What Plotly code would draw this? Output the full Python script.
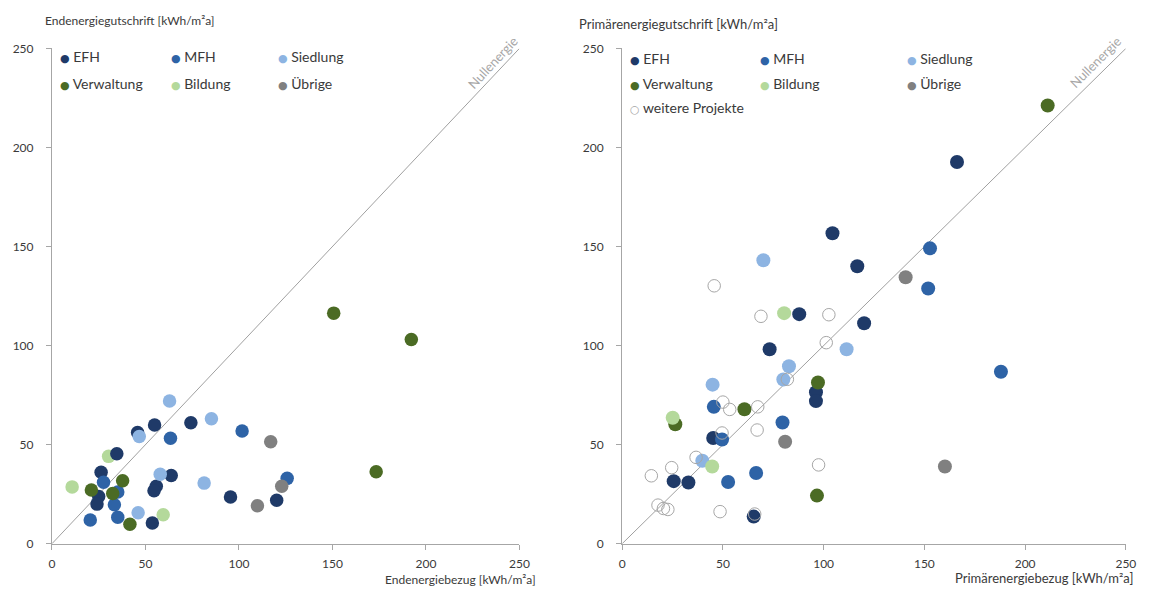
import plotly.graph_objects as go

# ---------------- data ----------------
categories = ["EFH", "MFH", "Siedlung", "Verwaltung", "Bildung", "Übrige"]
colors = ["#1f3a68", "#2e63a6", "#8db4e2", "#4b6b24", "#b4d99b", "#808080"]
open_label = "weitere Projekte"
open_color = "#a6a6a6"

tick_vals = [0, 50, 100, 150, 200, 250]
tick_text = ["0", "50", "100", "150", "200", "250"]
diag = [0, 250]

# Endenergie (left panel): Bezug (x) / Gutschrift (y)
end_efh_x = [45.8, 54.9, 74.3, 34.7, 26.3, 63.8, 25.0, 24.1, 55.8, 54.6, 95.5, 120.2, 53.7]
end_efh_y = [56.1, 59.9, 61.1, 45.4, 36.1, 34.4, 23.8, 20.0, 29.0, 26.7, 23.6, 22.0, 10.5]
end_mfh_x = [63.4, 101.7, 27.6, 35.2, 33.4, 125.8, 20.5, 35.2]
end_mfh_y = [53.3, 56.9, 31.0, 26.1, 19.7, 33.0, 12.0, 13.4]
end_sied_x = [62.9, 46.7, 85.3, 57.9, 81.4, 46.1]
end_sied_y = [72.0, 54.1, 63.1, 35.1, 30.6, 15.6]
end_verw_x = [37.8, 21.1, 32.5, 41.7, 150.7, 192.2, 173.4]
end_verw_y = [31.8, 27.1, 25.4, 9.8, 116.4, 103.1, 36.3]
end_bild_x = [30.3, 10.8, 59.5]
end_bild_y = [44.1, 28.7, 14.6]
end_uebr_x = [117.0, 122.9, 109.9]
end_uebr_y = [51.5, 29.0, 19.2]

# Primärenergie (right panel)
pri_efh_x = [166.2, 104.4, 116.7, 120.1, 87.9, 73.2, 96.2, 96.2, 45.2, 25.6, 32.9, 65.3]
pri_efh_y = [192.7, 156.7, 140.1, 111.3, 115.9, 98.2, 76.5, 72.0, 53.4, 31.6, 30.9, 13.7]
pri_mfh_x = [152.8, 151.9, 188.0, 45.5, 79.6, 49.6, 52.6, 66.5]
pri_mfh_y = [149.1, 128.8, 86.8, 69.1, 61.2, 52.6, 31.2, 35.7]
pri_sied_x = [70.1, 111.4, 82.8, 80.0, 44.9, 39.8]
pri_sied_y = [143.1, 98.2, 89.6, 82.9, 80.3, 41.9]
pri_verw_x = [211.2, 97.2, 60.7, 26.4, 96.7]
pri_verw_y = [221.2, 81.4, 67.9, 60.3, 24.3]
pri_bild_x = [80.4, 25.1, 44.7]
pri_bild_y = [116.4, 63.6, 39.0]
pri_uebr_x = [140.7, 80.9, 160.2]
pri_uebr_y = [134.5, 51.5, 39.0]
pri_open_x = [45.7, 68.9, 102.6, 101.3, 50.0, 53.4, 67.3, 67.0, 49.6, 36.7, 24.6, 14.5,
              17.8, 20.5, 22.7, 48.6, 65.8, 97.5, 82.0]
pri_open_y = [130.2, 114.8, 115.6, 101.5, 71.5, 67.8, 69.1, 57.4, 55.9, 43.6, 38.4, 34.3,
              19.5, 17.8, 17.3, 16.2, 15.0, 39.8, 83.0]

end_x = [end_efh_x, end_mfh_x, end_sied_x, end_verw_x, end_bild_x, end_uebr_x]
end_y = [end_efh_y, end_mfh_y, end_sied_y, end_verw_y, end_bild_y, end_uebr_y]
pri_x = [pri_efh_x, pri_mfh_x, pri_sied_x, pri_verw_x, pri_bild_x, pri_uebr_x]
pri_y = [pri_efh_y, pri_mfh_y, pri_sied_y, pri_verw_y, pri_bild_y, pri_uebr_y]

titles = {
    "end_y": "Endenergiegutschrift [kWh/m²a]",
    "end_x": "Endenergiebezug [kWh/m²a]",
    "pri_y": "Primärenergiegutschrift [kWh/m²a]",
    "pri_x": "Primärenergiebezug [kWh/m²a]",
}
diag_label = "Nullenergie"

# ---------------- figure ----------------
W, H = 1150, 599
FONT = "Lato, 'Open Sans', sans-serif"
TXT = "#3a3a3a"
AX = "#a6a6a6"

fig = go.Figure()

# zero-energy diagonals
for xa, ya in (("x", "y"), ("x2", "y2")):
    fig.add_trace(go.Scatter(x=diag, y=diag, mode="lines", xaxis=xa, yaxis=ya,
                             line=dict(color="#a0a0a0", width=1), showlegend=False,
                             hoverinfo="skip"))

order = [4, 0, 1, 2, 3, 5]
for i in order:
    fig.add_trace(go.Scatter(x=end_x[i], y=end_y[i], mode="markers", name=categories[i],
                             xaxis="x", yaxis="y", showlegend=False,
                             marker=dict(size=13.5, color=colors[i], line=dict(width=0))))
for i in [0, 1, 2, 3, 4, 5]:
    fig.add_trace(go.Scatter(x=pri_x[i], y=pri_y[i], mode="markers", name=categories[i],
                             xaxis="x2", yaxis="y2", showlegend=False,
                             marker=dict(size=14, color=colors[i], line=dict(width=0))))
fig.add_trace(go.Scatter(x=pri_open_x, y=pri_open_y, mode="markers", name=open_label,
                         xaxis="x2", yaxis="y2", showlegend=False,
                         marker=dict(size=12.5, symbol="circle-open", color=open_color,
                                     line=dict(width=1, color=open_color))))

def px_x(p):
    return p / W

def px_y(p):
    return 1 - p / H

ydom = [px_y(549.5), px_y(41.5)]
axis_common = dict(range=[0, 250], tickmode="array", tickvals=tick_vals, ticktext=tick_text,
                   showgrid=False, zeroline=False, showline=True, linecolor=AX, linewidth=1,
                   ticks="outside", ticklen=5, tickcolor=AX,
                   tickfont=dict(family=FONT, size=12, color=TXT), fixedrange=True)

fig.update_layout(
    width=W, height=H, margin=dict(l=0, r=0, t=0, b=0),
    paper_bgcolor="white", plot_bgcolor="white", showlegend=False,
    font=dict(family=FONT, color=TXT),
    xaxis=dict(domain=[px_x(49.5), px_x(522.3)], anchor="y", ticklabelstandoff=4, **axis_common),
    yaxis=dict(domain=ydom, anchor="x", ticklabelstandoff=10, **axis_common),
    xaxis2=dict(domain=[px_x(626.2), px_x(1135.7)], anchor="y2", ticklabelstandoff=4, **axis_common),
    yaxis2=dict(domain=ydom, anchor="x2", ticklabelstandoff=10, **axis_common),
)

ann = []
# axis titles
ann.append(dict(text=titles["end_y"], xref="paper", yref="paper", x=px_x(40), y=px_y(13),
                xanchor="left", yanchor="middle", showarrow=False,
                font=dict(family=FONT, size=12, color=TXT)))
ann.append(dict(text=titles["pri_y"], xref="paper", yref="paper", x=px_x(581), y=px_y(16),
                xanchor="left", yanchor="middle", showarrow=False,
                font=dict(family=FONT, size=13, color=TXT)))
ann.append(dict(text=titles["end_x"], xref="paper", yref="paper", x=px_x(541), y=px_y(586),
                xanchor="right", yanchor="middle", showarrow=False,
                font=dict(family=FONT, size=12, color=TXT)))
ann.append(dict(text=titles["pri_x"], xref="paper", yref="paper", x=px_x(1145), y=px_y(585),
                xanchor="right", yanchor="middle", showarrow=False,
                font=dict(family=FONT, size=13, color=TXT)))
# diagonal labels
ann.append(dict(text=diag_label, xref="x", yref="y", x=236, y=243, textangle=-47,
                showarrow=False, font=dict(family=FONT, size=13, color="#a6a6a6")))
ann.append(dict(text=diag_label, xref="x2", yref="y2", x=235, y=243, textangle=-45,
                showarrow=False, font=dict(family=FONT, size=13, color="#a6a6a6")))

# legend blocks (3 columns x rows)
def legend_entry(label, color, xpix, ypix, glyph="●"):
    return dict(text=f"<span style='font-family:DejaVu Sans;font-size:11px;color:{color}'>{glyph}</span> {label}",
                xref="paper", yref="paper", x=px_x(xpix), y=px_y(ypix),
                xanchor="left", yanchor="middle", showarrow=False,
                font=dict(family=FONT, size=14, color=TXT))

left_cols = [56, 168, 276]
left_rows = [50, 77]
right_cols = [632, 764, 912]
right_rows = [52, 77, 102]
for i, lab in enumerate(categories):
    r, c = divmod(i, 3)
    ann.append(legend_entry(lab, colors[i], left_cols[c], left_rows[r]))
    ann.append(legend_entry(lab, colors[i], right_cols[c], right_rows[r]))
ann.append(legend_entry(open_label, open_color, right_cols[0], right_rows[2], glyph="○"))

fig.update_layout(annotations=ann)

fig.write_html("out.html", config={"displayModeBar": False},
               post_script="document.body.style.margin='0';document.body.style.overflow='hidden';")
